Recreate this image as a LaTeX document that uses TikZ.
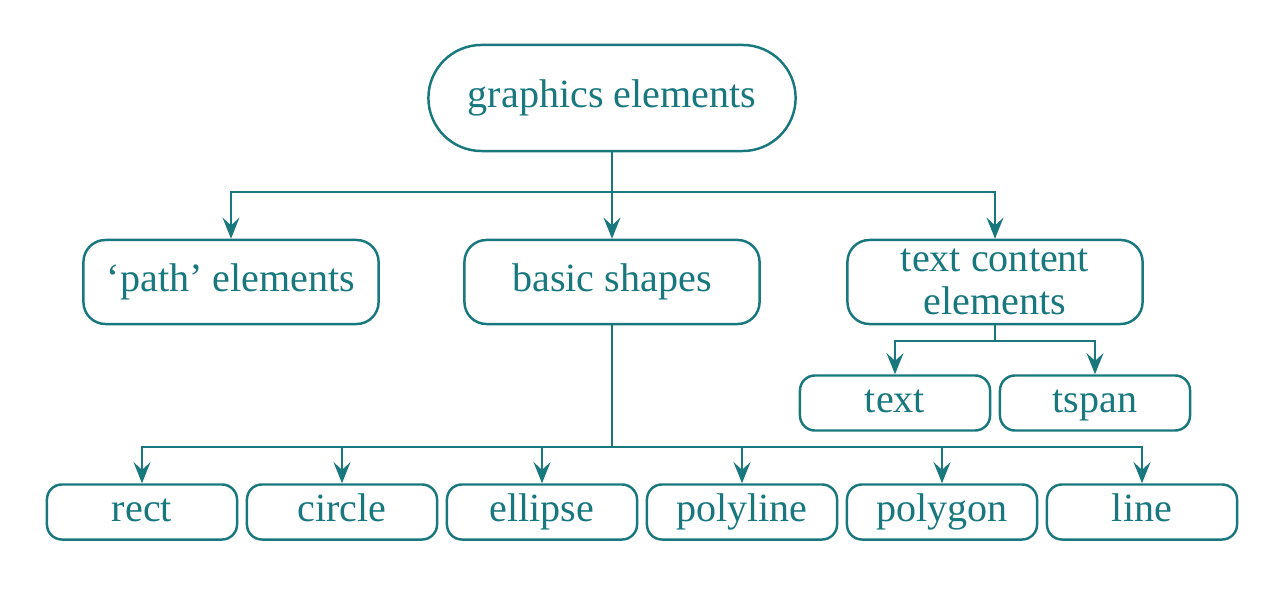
\documentclass[tikz,border=0pt]{standalone}
\usepackage{fontspec}
\setmainfont{Liberation Serif}
\usetikzlibrary{arrows.meta}
\definecolor{svgteal}{RGB}{24,120,126}

\begin{document}
\begin{tikzpicture}[x=0.01cm,y=-0.01cm,color=svgteal,line width=0.7pt,
    every node/.style={draw,inner sep=0pt,align=center,
      text height=1.5ex,text depth=0.3ex,font=\fontsize{11.4}{12}\selectfont},
    topbox/.style={minimum width=3.67cm,minimum height=1.06cm,rounded corners=0.53cm},
    midbox/.style={minimum width=2.95cm,minimum height=0.84cm,rounded corners=0.22cm},
    leafbox/.style={minimum width=1.90cm,minimum height=0.55cm,rounded corners=0.15cm},
    >={Stealth[length=6pt,width=4.8pt,inset=2.2pt]}]
  \useasboundingbox (0,0) rectangle (1277,607);

  \node[topbox] (ge) at (612,98){graphics elements};

  \node[midbox] (pe) at (231,282){‘path’ elements};
  \node[midbox] (bs) at (612,282){basic shapes};
  \node[midbox,text height=,text depth=] (tc) at (995,282){text content\\elements};

  \node[leafbox] (tx) at (895,403){text};
  \node[leafbox] (ts) at (1095,403){tspan};

  \node[leafbox] (re) at (142,512){rect};
  \node[leafbox] (ci) at (342,512){circle};
  \node[leafbox] (el) at (542,512){ellipse};
  \node[leafbox] (pl) at (742,512){polyline};
  \node[leafbox] (pg) at (942,512){polygon};
  \node[leafbox] (li) at (1142,512){line};

  \coordinate (j0) at (612,192);
  \coordinate (j1) at (995,341);
  \coordinate (j2) at (612,447);

  \draw (ge) -- (j0);
  \draw[->] (j0) -| (pe);
  \draw[->] (j0) -- (bs);
  \draw[->] (j0) -| (tc);

  \draw (tc) -- (j1);
  \draw[->] (j1) -| (tx);
  \draw[->] (j1) -| (ts);

  \draw (bs) -- (j2);
  \draw[->] (j2) -| (re);
  \draw[->] (j2) -| (ci);
  \draw[->] (j2) -| (el);
  \draw[->] (j2) -| (pl);
  \draw[->] (j2) -| (pg);
  \draw[->] (j2) -| (li);
\end{tikzpicture}
\end{document}
